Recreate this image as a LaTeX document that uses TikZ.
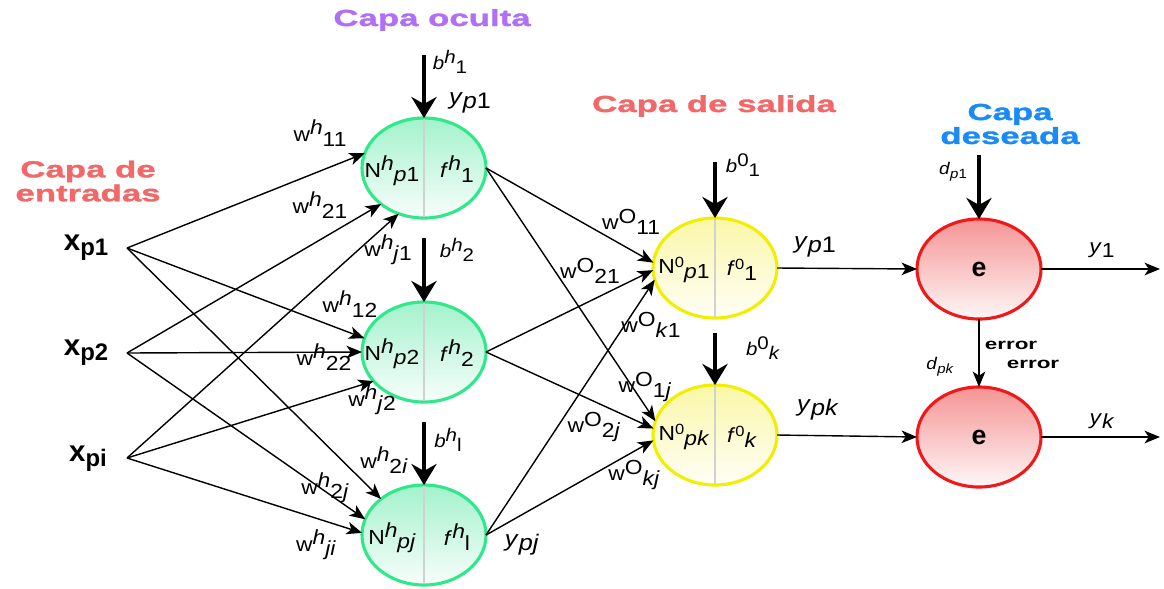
\documentclass[tikz,border=0pt]{standalone}
\usepackage{fontspec}
\setmainfont{Liberation Sans}
\newfontfamily\lfont[FakeStretch=1.12]{Liberation Sans}
\newfontfamily\tfont[FakeStretch=1.5,FakeBold=1.5]{Liberation Sans}
\newfontfamily\efont[FakeStretch=1.45]{Liberation Sans}
\usetikzlibrary{arrows.meta,shapes.geometric}
\definecolor{gborder}{HTML}{2EE88A}
\definecolor{gtop}{HTML}{A3F2CC}
\definecolor{yborder}{HTML}{F2EE00}
\definecolor{ytop}{HTML}{FAF7A8}
\definecolor{rborder}{HTML}{F01818}
\definecolor{rtop}{HTML}{F59494}
\definecolor{tpurple}{HTML}{B070F5}
\definecolor{tred}{HTML}{F26868}
\definecolor{tblue}{HTML}{1A8AF5}
\newcommand{\wl}[3]{#1\raisebox{0.6ex}{#2}\raisebox{-0.45ex}{#3}}
\begin{document}
\begin{tikzpicture}[x=0.025cm,y=-0.025cm,
  neuron/.style={ellipse, line width=2.2pt, minimum width=3.1cm, minimum height=2.5cm, inner sep=0pt, outer sep=0pt},
  hid/.style={neuron, draw=gborder, top color=gtop, bottom color=gtop!8!white},
  outn/.style={neuron, draw=yborder, top color=ytop, bottom color=ytop!10!white},
  errn/.style={neuron, draw=rborder, top color=rtop, bottom color=rtop!8!white, font=\fontsize{19}{21}\selectfont\bfseries},
  divider/.style={draw=black!18, line width=2pt, shorten <=1pt, shorten >=1pt},
  conn/.style={-{Stealth[length=11pt,width=9pt,inset=3pt]}, line width=1pt},
  bias/.style={-{Stealth[length=15pt,width=18pt,inset=5pt]}, line width=2.2pt},
  title/.style={font=\tfont\fontsize{16.5}{19}\selectfont\bfseries, align=center, inner sep=0pt},
  lab/.style={font=\lfont\fontsize{14.5}{16}\selectfont, inner sep=0pt},
  slab/.style={font=\lfont\fontsize{13}{14}\selectfont, inner sep=0pt},
  ylab/.style={font=\lfont\fontsize{16}{18}\selectfont, inner sep=0pt},
  inp/.style={font=\fontsize{21}{24}\selectfont\bfseries, inner sep=0pt}
]
\useasboundingbox (0,0) rectangle (1164,588);

% titles
\node[title, text=tpurple] (t1) at (432,20) {Capa oculta};
\node[title, text=tred] (t2) at (714,106) {Capa de salida};
\node[title, text=tblue] (t3) at (1010,124) {Capa\\[-2pt]deseada};
\node[title, text=tred] (t4) at (88,181) {Capa de\\[-2pt]entradas};

% neurons
\node[hid] (h1) at (424,168) {};
\node[hid] (h2) at (424,352) {};
\node[hid] (h3) at (424,535) {};
\node[outn] (o1) at (715,268) {};
\node[outn] (o2) at (715,435) {};
\foreach \n in {h1,h2,h3,o1,o2} \draw[divider] (\n.north) -- (\n.south);
\node[errn] (e1) at (979,269) {e};
\node[errn] (e2) at (979,437) {e};

% inputs
\node[inp] (x1) at (86,248) {x\raisebox{-0.3ex}{\fontsize{17}{19}\selectfont p1}};
\node[inp] (x2) at (86,353) {x\raisebox{-0.3ex}{\fontsize{17}{19}\selectfont p2}};
\node[inp] (x3) at (88,459) {x\raisebox{-0.3ex}{\fontsize{17}{19}\selectfont pi}};
\coordinate (s1) at (127,248);
\coordinate (s2) at (127,353);
\coordinate (s3) at (127,458);

% input -> hidden
\draw[conn] (s1) -- (h1.166);
\draw[conn] (s1) -- (h2.167);
\draw[conn] (s1) -- (h3.140);
\draw[conn] (s2) -- (h1.220);
\draw[conn] (s2) -- (h2.180);
\draw[conn] (s2) -- (h3.165);
\draw[conn] (s3) -- (h1.241);
\draw[conn] (s3) -- (h2.210);
\draw[conn] (s3) -- (h3.178);

% hidden -> output
\draw[conn] (h1.east) -- (o1.175);
\draw[conn] (h1.east) -- (o2.167);
\draw[conn] (h2.east) -- (o1.182);
\draw[conn] (h2.east) -- (o2.174);
\draw[conn] (h3.east) -- (o1.191);
\draw[conn] (h3.east) -- (o2.185);

% output -> error
\coordinate (y1end) at (1160,269);
\coordinate (ykend) at (1160,437);
\draw[conn] (o1.east) -- (e1.west);
\draw[conn] (o2.east) -- (e2.west);
\draw[conn] (e1.east) -- (y1end);
\draw[conn] (e2.east) -- (ykend);
\draw[conn, line width=1.2pt] (e1.south) -- (e2.north);

% biases
\coordinate (bh1) at (424,55);
\coordinate (bh2) at (424,238);
\coordinate (bh3) at (424,422);
\coordinate (bo1) at (715,162);
\coordinate (bok) at (715,333);
\coordinate (dp1) at (979,155);
\draw[bias] (bh1) -- (h1.north);
\draw[bias] (bh2) -- (h2.north);
\draw[bias] (bh3) -- (h3.north);
\draw[bias] (bo1) -- (o1.north);
\draw[bias] (bok) -- (o2.north);
\draw[bias] (dp1) -- (e1.north);

% neuron labels
\node[lab] (n1) at (392,171) {\wl{N}{\textit{h}}{\textit{p}1}};
\node[lab] (f1) at (457,169) {\wl{\textit{f}}{\textit{h}}{1}};
\node[lab] (n2) at (392,354) {\wl{N}{\textit{h}}{\textit{p}2}};
\node[lab] (f2) at (457,353) {\wl{\textit{f}}{\textit{h}}{2}};
\node[lab] (n3) at (392,538) {\wl{N}{\textit{h}}{\textit{pj}}};
\node[lab] (f3) at (457,537) {\wl{\textit{f}}{\textit{h}}{l}};
\node[lab] (n4) at (684,270) {\wl{N}{\fontsize{10.5}{11}\selectfont 0}{\textit{p}1}};
\node[lab] (f4) at (742,270) {\wl{\textit{f}}{\fontsize{10.5}{11}\selectfont 0}{1}};
\node[lab] (n5) at (684,437) {\wl{N}{\fontsize{10.5}{11}\selectfont 0}{\textit{pk}}};
\node[lab] (f5) at (742,437) {\wl{\textit{f}}{\fontsize{10.5}{11}\selectfont 0}{\textit{k}}};

% weight labels hidden
\node[lab] (w11) at (320,133) {\wl{w}{\textit{h}}{11}};
\node[lab] (w21) at (320,205) {\wl{w}{\textit{h}}{21}};
\node[lab] (wj1) at (388,250) {\wl{w}{\textit{h}}{\textit{j}1}};
\node[lab] (w12) at (350,304) {\wl{w}{\textit{h}}{12}};
\node[lab] (w22) at (324,357) {\wl{w}{\textit{h}}{22}};
\node[lab] (wj2) at (372,400) {\wl{w}{\textit{h}}{\textit{j}2}};
\node[lab] (w2i) at (384,460) {\wl{w}{\textit{h}}{2\textit{i}}};
\node[lab] (w2j) at (325,488) {\wl{w}{\textit{h}}{2\textit{j}}};
\node[lab] (wji) at (316,545) {\wl{w}{\textit{h}}{\textit{ji}}};

% weight labels output
\node[lab] (v11) at (631,222) {\wl{w}{O}{11}};
\node[lab] (v21) at (590,271) {\wl{w}{O}{21}};
\node[lab] (vk1) at (651,325) {\wl{w}{O}{\textit{k}1}};
\node[lab] (v1j) at (645,387) {\wl{w}{O}{1\textit{j}}};
\node[lab] (v2j) at (594,427) {\wl{w}{O}{2\textit{j}}};
\node[lab] (vkj) at (634,475) {\wl{w}{O}{\textit{kj}}};

% bias labels
\node[slab] (lb1) at (450,62) {\wl{\textit{b}}{\textit{h}}{1}};
\node[slab] (lb2) at (457,250) {\wl{\textit{b}}{\textit{h}}{2}};
\node[slab] (lb3) at (448,440) {\wl{\textit{b}}{\textit{h}}{l}};
\node[slab] (lb4) at (743,165) {\wl{\textit{b}}{0}{1}};
\node[slab] (lb5) at (763,348) {\wl{\textit{b}}{0}{\textit{k}}};

% outputs labels
\node[ylab] (yp1a) at (470,103) {\textit{y}\raisebox{-0.4ex}{\textit{p}1}};
\node[ylab] (ypj) at (522,545) {\textit{y}\raisebox{-0.4ex}{\textit{pj}}};
\node[ylab] (yp1b) at (815,247) {\textit{y}\raisebox{-0.4ex}{\textit{p}1}};
\node[ylab] (ypk) at (818,410) {\textit{y}\raisebox{-0.4ex}{\textit{pk}}};
\node[lab] (y1) at (1102,250) {\textit{y}\raisebox{-0.4ex}{1}};
\node[lab] (yk) at (1102,421) {\textit{y}\raisebox{-0.4ex}{\textit{k}}};

% desired / error labels
\node[font=\lfont\fontsize{12}{13}\selectfont, inner sep=0pt] (ld1) at (953,172) {\textit{d}\raisebox{-0.4ex}{\fontsize{9.5}{10}\selectfont\textit{p}1}};
\node[font=\lfont\fontsize{12}{13}\selectfont, inner sep=0pt] (ldk) at (940,367) {\textit{d}\raisebox{-0.4ex}{\fontsize{9.5}{10}\selectfont\textit{pk}}};
\node[font=\efont\fontsize{11}{12}\selectfont\bfseries, inner sep=0pt] (er1) at (1011,345) {error};
\node[font=\efont\fontsize{11}{12}\selectfont\bfseries, inner sep=0pt] (er2) at (1033,364) {error};
\end{tikzpicture}
\end{document}
